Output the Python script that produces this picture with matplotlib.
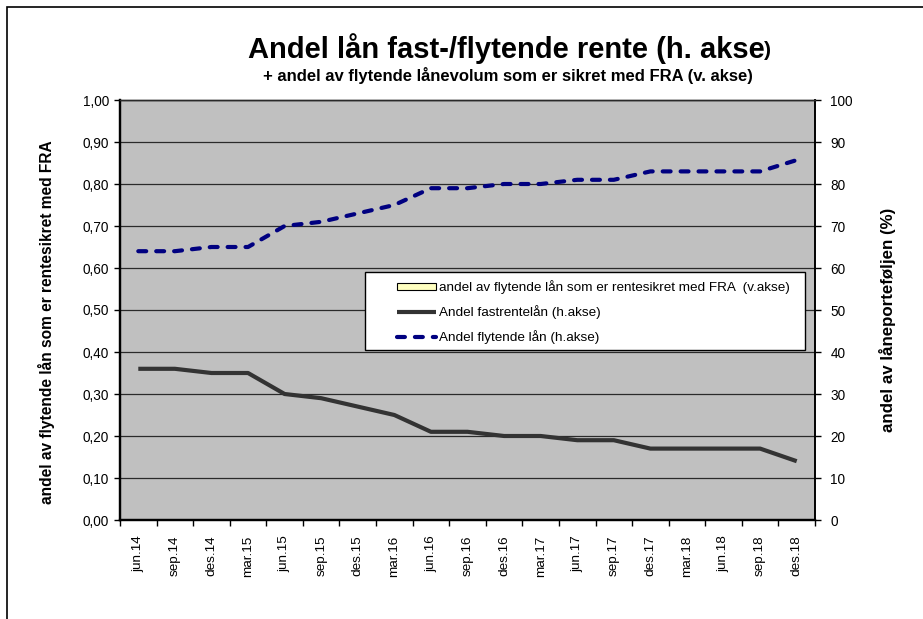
import numpy as np
import matplotlib
matplotlib.use("Agg")
import matplotlib.pyplot as plt
from matplotlib.patches import Rectangle
from matplotlib.ticker import FuncFormatter, MultipleLocator, FixedLocator

plt.rcParams['font.family'] = ['Liberation Sans', 'DejaVu Sans']

categories = ["jun.14", "sep.14", "des.14", "mar.15", "jun.15", "sep.15", "des.15",
              "mar.16", "jun.16", "sep.16", "des.16", "mar.17", "jun.17", "sep.17",
              "des.17", "mar.18", "jun.18", "sep.18", "des.18"]
fra_share = [np.nan] * len(categories)  # no visible bars in the reference
fixed_share = [36, 36, 35, 35, 30, 29, 27, 25, 21, 21, 20, 20, 19, 19, 17, 17, 17, 17, 14]
floating_share = [64, 64, 65, 65, 70, 71, 73, 75, 79, 79, 80, 80, 81, 81, 83, 83, 83, 83, 85.7]

W, H = 923, 619
fig = plt.figure(figsize=(W / 100, H / 100), dpi=100)

def fx(px):
    return px / W

def fy(py):
    return 1 - py / H

# outer frame (only left/top visible in reference)
fig.patches.append(Rectangle((fx(7), -0.1), 1.2, fy(7) + 0.1, transform=fig.transFigure,
                             fill=False, edgecolor='black', linewidth=1.2))

x0, x1, y0, y1 = 120, 815, 100, 520
ax = fig.add_axes([fx(x0), fy(y1), (x1 - x0) / W, (y1 - y0) / H])
ax.set_facecolor('#C0C0C0')
x = np.arange(len(categories))

bars = ax.bar(x, fra_share, width=0.6, color='#FFFFC0', edgecolor='black', linewidth=0.8,
              label='andel av flytende lån som er rentesikret med FRA  (v.akse)')
ax.set_ylim(0, 1.0)
ax.set_xlim(-0.5, len(categories) - 0.5)
ax.yaxis.set_major_locator(MultipleLocator(0.1))
ax.yaxis.set_major_formatter(FuncFormatter(lambda v, p: f"{v:.2f}".replace('.', ',')))
ax.grid(axis='y', color='#2a2a2a', linewidth=0.9)
ax.set_axisbelow(True)

ax2 = ax.twinx()
ax2.set_ylim(0, 100)
ax2.yaxis.set_major_locator(MultipleLocator(10))
l1, = ax2.plot(x, fixed_share, color='#333333', linewidth=3.0, solid_capstyle='butt',
               solid_joinstyle='round', label='Andel fastrentelån (h.akse)')
l2, = ax2.plot(x, floating_share, color='#000080', linewidth=3.0,
               linestyle=(0, (1.9, 2.4)), dash_capstyle='round',
               label='Andel flytende lån (h.akse)')

ax.set_xticks(x)
ax.set_xticklabels(categories, rotation=90, fontsize=9.7)
ax.xaxis.set_minor_locator(FixedLocator(np.arange(-0.5, len(categories), 1)))
ax.tick_params(axis='x', which='major', length=0, pad=11)
ax.tick_params(axis='x', which='minor', length=4, width=1, direction='out')
ax.tick_params(axis='y', length=4, width=1, direction='out', labelsize=9.8, pad=4)
ax2.tick_params(axis='y', length=4, width=1, direction='out', labelsize=9.8, pad=7)

for a in (ax, ax2):
    for s in a.spines.values():
        s.set_linewidth(1.0)
    a.spines['bottom'].set_linewidth(1.6)
    a.spines['left'].set_linewidth(1.6)
    a.spines['right'].set_linewidth(1.2)
    a.spines['top'].set_color('#2a2a2a')

fig.text(fx(47), fy(322), "andel av flytende lån som er rentesikret med FRA", rotation=90,
         ha='center', va='center', fontsize=11.2, fontweight='bold')
fig.text(fx(887), fy(320), "andel av låneporteføljen (%)", rotation=90,
         ha='center', va='center', fontsize=12.2, fontweight='bold')

t1 = fig.text(fx(506), fy(49), "Andel lån fast-/flytende rente (h. akse", ha='center',
              va='center', fontsize=21, fontweight='bold')
fig.canvas.draw()
bb = t1.get_window_extent()
fig.text(bb.x1 / W, fy(51), ")", ha='left', va='center', fontsize=15, fontweight='bold')
fig.text(fx(508), fy(75), "+ andel av flytende lånevolum som er sikret med FRA (v. akse)",
         ha='center', va='center', fontsize=12, fontweight='bold')

# legend box drawn separately, inside ax2 beneath the legend
box = Rectangle((fx(365), fy(350)), (805 - 365) / W, (350 - 272) / H,
                transform=fig.transFigure, facecolor='white',
                edgecolor='black', linewidth=1.0, zorder=4.5, clip_on=False)
ax2.add_artist(box)
leg = ax2.legend(handles=[bars, l1, l2], loc='upper left',
                 bbox_to_anchor=(fx(397), fy(280)), bbox_transform=fig.transFigure,
                 fontsize=9.7, frameon=False, borderpad=0, handlelength=2.9,
                 handletextpad=0.2, labelspacing=0.82, borderaxespad=0, handleheight=0.45)
leg.set_zorder(6)

fig.savefig("out.png", dpi=100)
